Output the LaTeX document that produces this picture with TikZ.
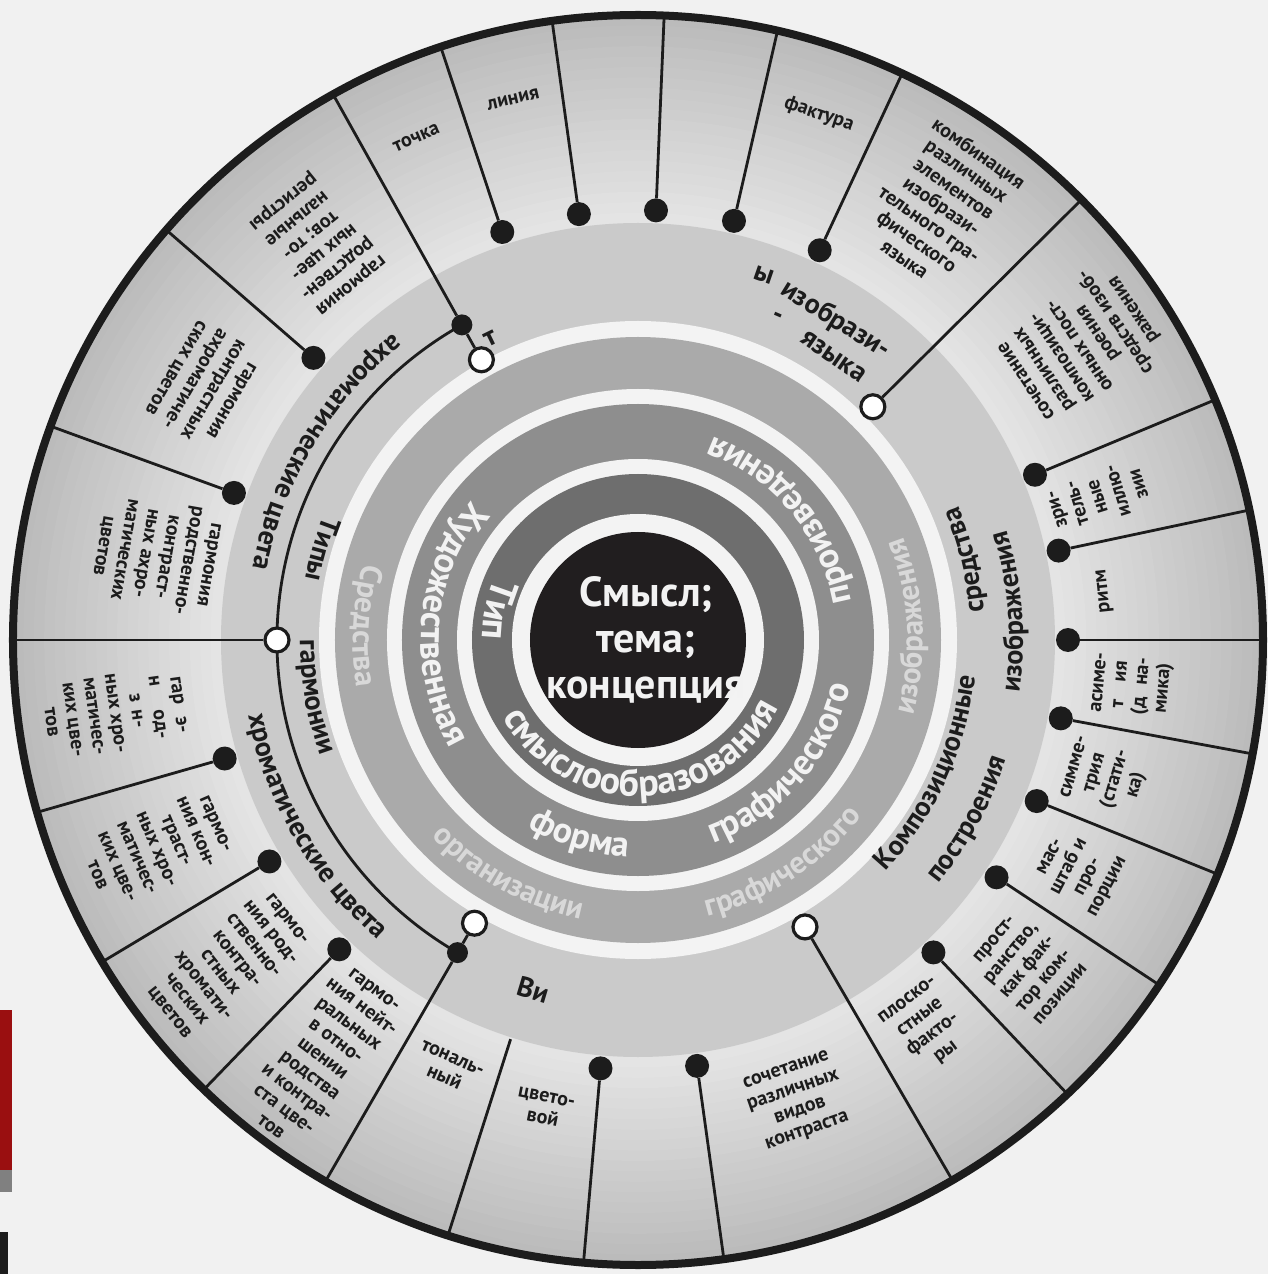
\documentclass[tikz,border=0pt]{standalone}
\usepackage{fontspec}
\setmainfont{PT Sans}
\usetikzlibrary{decorations.text}
\definecolor{ink}{HTML}{1C1C1C}
\definecolor{paper}{HTML}{F1F1F1}
\definecolor{sectdark}{HTML}{BBBBBB}
\definecolor{sectlight}{HTML}{E6E6E6}
\definecolor{bandc}{HTML}{CACACA}
\definecolor{wring}{HTML}{F3F3F3}
\definecolor{ringc}{HTML}{AAAAAA}
\definecolor{ringb}{HTML}{8E8E8E}
\definecolor{ringa}{HTML}{6E6E6E}
\definecolor{corec}{HTML}{211E1F}
\definecolor{ltxt}{HTML}{D8D8D8}
\definecolor{wtxt}{HTML}{F2F2F2}
\definecolor{scanred}{HTML}{9A0F10}
\pgfdeclarelayer{bg}
\pgfdeclarelayer{fg}
\pgfsetlayers{bg,main,fg}
\newcommand\ringlabel[6]{%
  \pgfmathsetmacro\rlA{#2-#3}%
  \pgfmathsetmacro\rlB{#2+#3}%
  \path[decorate,decoration={text along path,text align=center,text color=#5,
      text={|\fontsize{#4}{#4}\selectfont\bfseries|#6}}]
    (\rlA:#1) arc[start angle=\rlA,end angle=\rlB,radius=#1];}
\begin{document}
\begin{tikzpicture}[x=1pt,y=1pt,
  spoke/.style={line width=2.8pt, draw=ink},
  dotnode/.style={circle, fill=ink, inner sep=0pt, minimum size=24pt},
  hollow/.style={circle, fill=white, draw=ink, line width=3.2pt, inner sep=0pt, minimum size=24pt},
  sect/.style={font=\fontsize{20}{21.5}\selectfont\bfseries, text=ink, align=center, inner sep=0pt},
  band/.style={font=\fontsize{28}{28}\selectfont\bfseries, text=ink, inner sep=0pt},
]
\begin{pgfonlayer}{bg}
\fill[paper] (-638,-634) rectangle (630,640);
\fill[scanred] (-638,-530) rectangle (-626,-370);
\fill[gray] (-638,-552) rectangle (-626,-530);
\fill[ink] (-638,-634) rectangle (-630,-592);
\foreach \i in {0,...,20} {
  \pgfmathsetmacro\rr{625-\i*10.4}
  \pgfmathsetmacro\pp{100-\i*5}
  \fill[sectdark!\pp!sectlight] (0,0) circle (\rr);
}
\fill[bandc] (0,0) circle (417);
\fill[wring] (0,0) circle (319);
\fill[ringc] (0,0) circle (303);
\fill[wring] (0,0) circle (251);
\fill[ringb] (0,0) circle (236);
\fill[wring] (0,0) circle (181);
\fill[ringa] (0,0) circle (166);
\fill[wring] (0,0) circle (126);
\fill[corec] (0,0) circle (108);
\end{pgfonlayer}
\useasboundingbox (-638,-634) rectangle (630,640);

% dots, hollow circles
\begin{pgfonlayer}{fg}
\draw[ink, line width=8pt] (0,0) circle (625);
\foreach \a/\n in {108.4/1, 97.9/2, 87.6/3, 77.1/4, 65/5, 22.6/6, 12/7, 0/8, -10.5/9, -22/10, -33.5/11, -46.6/12, -82.1/13, -95/14, 139/15, 160/16, 196/17, 211/18, 226/19}
  \node[dotnode] (d\n) at (\a:430) {};
\node[dotnode, minimum size=21pt] (b1) at (119.2:361) {};
\node[dotnode, minimum size=21pt] (b2) at (240:361) {};
\node[hollow] (h1) at (119.2:321) {};
\node[hollow] (h2) at (44.8:331) {};
\node[hollow] (h3) at (300.2:332) {};
\node[hollow] (h4) at (240:327) {};
\node[hollow] (h5) at (180:361) {};
\end{pgfonlayer}

\foreach \a/\n in {108.4/1, 97.9/2, 87.6/3, 77.1/4, 65/5, 22.6/6, 12/7, 0/8, -10.5/9, -22/10, -33.5/11, -46.6/12, -82.1/13, -95/14, 139/15, 160/16, 196/17, 211/18, 226/19}
  \coordinate (e\n) at (\a:625);
\coordinate (eb1) at (119.2:625);
\coordinate (eb2) at (240:625);
\coordinate (eh2) at (44.8:625);
\coordinate (eh3) at (300.2:625);
\coordinate (eh5) at (180:625);
\coordinate (s20) at (252.3:419);
\coordinate (e20) at (252.3:625);

\foreach \n in {1,...,19} \draw[spoke] (d\n) -- (e\n);
\draw[spoke] (h1) -- (b1);
\draw[spoke] (b1) -- (eb1);
\draw[spoke] (h4) -- (b2);
\draw[spoke] (b2) -- (eb2);
\draw[spoke] (h2) -- (eh2);
\draw[spoke] (h3) -- (eh3);
\draw[spoke] (h5) -- (eh5);
\draw[spoke] (s20) -- (e20);
\draw[spoke] (b1.center) arc[start angle=119.2, end angle=240, radius=361];

% centre
\node[font=\fontsize{42}{46}\selectfont\bfseries, text=wtxt, align=center, inner sep=0pt] (core) at (8,0) {Смысл;\\тема;\\концепция};

% ring 1
\ringlabel{156}{168}{60}{38}{wtxt}{Тип}
\ringlabel{156}{272}{88}{38}{wtxt}{смыслообразования}
% ring 2
\ringlabel{217}{175}{70}{36}{wtxt}{Художественная}
\ringlabel{217}{253.5}{40}{36}{wtxt}{форма}
\ringlabel{217}{319}{50}{36}{wtxt}{графического}
\ringlabel{217}{40}{50}{36}{wtxt}{произведения}
% ring 3
\ringlabel{285}{177}{30}{31}{ltxt}{Средства}
\ringlabel{285}{241}{35}{31}{ltxt}{организации}
\ringlabel{285}{303}{35}{31}{ltxt}{графического}
\ringlabel{285}{3}{35}{31}{ltxt}{изображения}
% light band
\ringlabel{338}{164}{20}{28}{ink}{Типы}
\ringlabel{338}{190}{25}{28}{ink}{гармонии}
\ringlabel{392}{149}{40}{28}{ink}{ахроматические цвета}
\ringlabel{397}{210}{40}{28}{ink}{хроматические цвета}
\ringlabel{339}{335.4}{35}{28}{ink}{Композиционные}
\ringlabel{387}{331.5}{30}{28}{ink}{построения}
\ringlabel{347}{13.7}{25}{28}{ink}{средства}
\ringlabel{385}{4.4}{30}{28}{ink}{изображения}

\node[band, rotate=26] (f1) at (116:335) {т};
\node[band, rotate=-19] (f2) at (71:386) {ы};
\node[band, rotate=-31.7] (f3) at (58.3:376) {изобрази-};
\node[band, rotate=-23.3] (f4) at (66.7:351) {-};
\node[band, rotate=-34.6] (f5) at (55.4:344) {языка};
\node[band, rotate=-16.7] (f6) at (253.3:365) {Ви};

% sector texts
\node[sect, rotate=23.8] (t1) at (113.8:549) {точка};
\node[sect, rotate=13] (t2) at (103:555) {линия};
\node[sect, rotate=-19] (t3) at (71:556) {фактура};
\node[sect, rotate=-35] (t4) at (55:530) {комбинация\\различных\\элементов\\изобрази-\\тельного гра-\\фического\\языка};
\node[sect, rotate=123.7] (t5) at (33.7:533) {сочетание\\различных\\композици-\\онных пост-\\роения\\средств изоб-\\ражения};
\node[sect, rotate=107.3] (t6) at (17.3:482) {зри-\\тель-\\ные\\иллю-\\зии};
\node[sect, rotate=96] (t7) at (6:469) {ритм};
\node[sect, rotate=84.75] (t8) at (-5.25:497) {асиме-\\т\hspace{0.9em}ия\\(д\hspace{0.6em}на-\\мика)};
\node[sect, rotate=73.75] (t9) at (-16.25:488) {симме-\\трия\\(стати-\\ка)};
\node[sect, rotate=62.25] (t10) at (-27.75:499) {мас-\\штаб и\\про-\\порции};
\node[sect, rotate=50] (t11) at (-40:509) {прост-\\ранство,\\как фак-\\тор ком-\\позиции};
\node[sect, rotate=36.8] (t12) at (-53.2:483) {плоско-\\стные\\факто-\\ры};
\node[sect, rotate=19] (t13) at (-71:488) {сочетание\\различных\\видов\\контраста};
\node[sect, rotate=-11.3] (t14) at (258.7:477) {цвето-\\вой};
\node[sect, rotate=-23.9] (t15) at (246.1:468) {тональ-\\ный};
\node[sect, rotate=-37] (t16) at (233:524) {гармо-\\ния нейт-\\ральных\\в отно-\\шении\\родства\\и контра-\\ста цве-\\тов};
\node[sect, rotate=-51.5] (t17) at (218.5:524) {гармо-\\ния род-\\ственно-\\контра-\\стных\\хромати-\\ческих\\цветов};
\node[sect, rotate=-66.5] (t18) at (203.5:525) {гармо-\\ния кон-\\траст-\\ных хро-\\матичес-\\ких цве-\\тов};
\node[sect, rotate=-82] (t19) at (188:528) {гар\hspace{0.6em}э-\\н\hspace{1.2em}од-\\з\hspace{0.4em}н-\\ных хро-\\матичес-\\ких цве-\\тов};
\node[sect, rotate=-100] (t20) at (170:490) {гармония\\родственно-\\контраст-\\ных ахро-\\матических\\цветов};
\node[sect, rotate=-120.5] (t21) at (149.5:505) {гармония\\контрастных\\ахроматиче-\\ских цветов};
\node[sect, rotate=-141] (t22) at (129:512) {гармония\\родствен-\\ных цве-\\тов; то-\\нальные\\регистры};
\end{tikzpicture}
\end{document}
